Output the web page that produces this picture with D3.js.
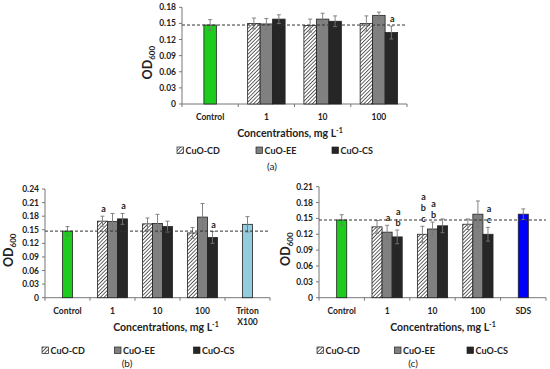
<!DOCTYPE html>
<html>
<head>
<meta charset="utf-8">
<script src="https://cdn.jsdelivr.net/npm/d3@7"></script>
<style>
  body { margin: 0; background: #fff; }
  svg { display: block; }
  text { font-family: Lato, "Open Sans", sans-serif; }
</style>
</head>
<body>
<div id="chart"></div>
<script>
/*--- datos ---*/
const series = ["CuO-CD", "CuO-EE", "CuO-CS"];
const concs = ["1", "10", "100"];

// panel (a)
const aCats = ["Control", "1", "10", "100"];
const aControl = [0.147, 0.010];
const aCD = [0.150, 0.146, 0.150];
const aEE = [0.149, 0.158, 0.165];
const aCS = [0.158, 0.154, 0.133];
const aCDErr = [0.010, 0.012, 0.014];
const aEEErr = [0.010, 0.011, 0.006];
const aCSErr = [0.008, 0.010, 0.012];
const aLetters = [["", "", ""], ["", "", ""], ["", "", "a"]];
const aTicks = [0, 0.03, 0.06, 0.09, 0.12, 0.15, 0.18];

// panel (b)
const bCats = ["Control", "1", "10", "100", "Triton X100"];
const bControl = [0.147, 0.010];
const bRef = [0.162, 0.017];
const bCD = [0.169, 0.163, 0.143];
const bEE = [0.168, 0.164, 0.178];
const bCS = [0.174, 0.157, 0.133];
const bCDErr = [0.011, 0.013, 0.012];
const bEEErr = [0.018, 0.020, 0.030];
const bCSErr = [0.012, 0.012, 0.013];
const bLetters = [["a", "", ""], ["", "", ""], ["a", "", "a"]];
const bTicks = [0, 0.03, 0.06, 0.09, 0.12, 0.15, 0.18, 0.21, 0.24];

// panel (c)
const cCats = ["Control", "1", "10", "100", "SDS"];
const cControl = [0.147, 0.010];
const cRef = [0.158, 0.010];
const cCD = [0.134, 0.120, 0.139];
const cEE = [0.124, 0.130, 0.158];
const cCS = [0.115, 0.136, 0.120];
const cCDErr = [0.012, 0.015, 0.010];
const cEEErr = [0.013, 0.013, 0.025];
const cCSErr = [0.013, 0.013, 0.013];
const cLetters = [["", "a b c", ""], ["a", "a b", ""], ["a b", "", "a c"]];
const cTicks = [0, 0.03, 0.06, 0.09, 0.12, 0.15, 0.18, 0.21];

const linea_control = 0.147;

/*--- svg ---*/
const width = 550, height = 369;
const svg = d3.select("#chart").append("svg")
  .attr("width", width).attr("height", height);

const defs = svg.append("defs");
const pat = defs.append("pattern")
  .attr("id", "rayas")
  .attr("patternUnits", "userSpaceOnUse")
  .attr("width", 2.6).attr("height", 2.6)
  .attr("patternTransform", "rotate(45)");
pat.append("rect").attr("width", 2.6).attr("height", 2.6).attr("fill", "#fff");
pat.append("line").attr("x1", 0).attr("y1", 0).attr("x2", 0).attr("y2", 2.6)
  .attr("stroke", "#111").attr("stroke-width", 1.3);

const fills = ["url(#rayas)", "#808080", "#262626"];

function panel(p) {
  const g = svg.append("g");
  const x = d3.scaleBand().domain(p.cats).range(p.xr).padding(0);
  const y = d3.scaleLinear().domain([0, p.ymax]).range(p.yr);
  const bw = x.bandwidth() * 0.222;

  // eje y
  g.append("line").attr("x1", p.xr[0]).attr("x2", p.xr[0])
    .attr("y1", y(0)).attr("y2", y(p.ymax)).attr("stroke", "#777");
  g.selectAll(".yt").data(p.ticks).enter().append("line")
    .attr("x1", p.xr[0] - 3).attr("x2", p.xr[0])
    .attr("y1", d => y(d)).attr("y2", d => y(d)).attr("stroke", "#777");
  g.selectAll(".yl").data(p.ticks).enter().append("text")
    .attr("x", p.xr[0] - 6).attr("y", d => y(d) + 3)
    .attr("text-anchor", "end").attr("font-size", 8.5).attr("font-weight", 700)
    .attr("fill", "#222")
    .text(d => d === 0 ? "0" : d.toFixed(2));

  // eje x
  g.append("line").attr("x1", p.xr[0]).attr("x2", p.xr[1])
    .attr("y1", y(0)).attr("y2", y(0)).attr("stroke", "#777");
  const bounds = p.cats.map(c => x(c)).concat([p.xr[1]]);
  g.selectAll(".xt").data(bounds).enter().append("line")
    .attr("x1", d => d).attr("x2", d => d)
    .attr("y1", y(0)).attr("y2", y(0) + 3).attr("stroke", "#777");
  p.cats.forEach(c => {
    const parts = c === "Triton X100" ? ["Triton", "X100"] : [c];
    parts.forEach((t, i) => {
      g.append("text").attr("x", x(c) + x.bandwidth() / 2)
        .attr("y", y(0) + 16 + i * 11.5)
        .attr("text-anchor", "middle").attr("font-size", 8.5).attr("font-weight", 700)
        .attr("fill", "#222").text(t);
    });
  });

  // barras
  const bars = [];
  bars.push({ cx: x(p.cats[0]) + x.bandwidth() / 2, v: p.control[0], e: p.control[1], fill: "#1ecc1e", letter: "" });
  concs.forEach((c, i) => {
    const cx0 = x(c) + x.bandwidth() / 2;
    p.vals.forEach((s, j) => {
      bars.push({ cx: cx0 + (j - 1) * bw, v: s[i], e: p.errs[j][i], fill: fills[j], letter: p.letters[j][i] });
    });
  });
  if (p.ref) {
    bars.push({ cx: x(p.cats[4]) + x.bandwidth() / 2, v: p.ref[0], e: p.ref[1], fill: p.refColor, letter: "" });
  }

  g.selectAll(".bar").data(bars).enter().append("rect")
    .attr("x", d => d.cx - bw / 2).attr("width", bw)
    .attr("y", d => y(d.v)).attr("height", d => y(0) - y(d.v))
    .attr("fill", d => d.fill).attr("stroke", "#222").attr("stroke-width", 0.8);

  // barras de error
  const eb = g.selectAll(".eb").data(bars).enter().append("g").attr("stroke", "#777").attr("stroke-width", 0.9);
  eb.append("line").attr("x1", d => d.cx).attr("x2", d => d.cx)
    .attr("y1", d => y(d.v - d.e)).attr("y2", d => y(d.v + d.e));
  eb.append("line").attr("x1", d => d.cx - 2).attr("x2", d => d.cx + 2)
    .attr("y1", d => y(d.v - d.e)).attr("y2", d => y(d.v - d.e));
  eb.append("line").attr("x1", d => d.cx - 2).attr("x2", d => d.cx + 2)
    .attr("y1", d => y(d.v + d.e)).attr("y2", d => y(d.v + d.e));

  // letras
  bars.filter(d => d.letter).forEach(d => {
    const ls = d.letter.split(" ");
    ls.forEach((t, k) => {
      g.append("text").attr("x", d.cx + 1)
        .attr("y", y(d.v + d.e) - 4 - (ls.length - 1 - k) * 11)
        .attr("text-anchor", "middle").attr("font-size", 9).attr("font-weight", 700)
        .attr("fill", "#222").text(t);
    });
  });

  // linea punteada
  g.append("line").attr("x1", p.xr[0]).attr("x2", p.xr[1])
    .attr("y1", y(linea_control)).attr("y2", y(linea_control))
    .attr("stroke", "#333").attr("stroke-width", 1).attr("stroke-dasharray", "3,2");

  // titulo y
  const yt = g.append("text")
    .attr("transform", "translate(" + p.ylabX + "," + ((p.yr[0] + p.yr[1]) / 2 + 7) + ") rotate(-90)")
    .attr("text-anchor", "middle").attr("font-size", 12.5).attr("font-weight", 700).attr("fill", "#222");
  yt.append("tspan").text("OD");
  yt.append("tspan").attr("font-size", 8).attr("dy", 3).text("600");

  // titulo x
  const xt = g.append("text").attr("x", p.titleX).attr("y", y(0) + 33)
    .attr("text-anchor", "middle").attr("font-size", 10.5).attr("font-weight", 700).attr("fill", "#222");
  xt.append("tspan").text("Concentrations, mg L");
  xt.append("tspan").attr("font-size", 7).attr("dy", -4).text("-1");

  // leyenda
  series.forEach((s, j) => {
    const lx = p.legX[j];
    g.append("rect").attr("x", lx).attr("y", p.legY - 6).attr("width", 6.5).attr("height", 6.5)
      .attr("fill", fills[j]).attr("stroke", "#222").attr("stroke-width", 0.7);
    g.append("text").attr("x", lx + 8.5).attr("y", p.legY + 0.5)
      .attr("font-size", 9).attr("font-weight", 700).attr("fill", "#222").text(s);
  });

  // etiqueta del panel
  g.append("text").attr("x", p.tagX).attr("y", p.tagY)
    .attr("text-anchor", "middle").attr("font-size", 10)
    .attr("font-family", "'Liberation Serif', 'DejaVu Serif', serif")
    .attr("fill", "#222").text(p.tag);
}

panel({
  cats: aCats, xr: [182, 407], yr: [104, 7.3], ymax: 0.18, ticks: aTicks,
  control: aControl, vals: [aCD, aEE, aCS], errs: [aCDErr, aEEErr, aCSErr], letters: aLetters,
  ylabX: 152, titleX: 290, legX: [177, 256, 332], legY: 153, tag: "(a)", tagX: 272, tagY: 170
});

panel({
  cats: bCats, xr: [45, 270], yr: [297.7, 189], ymax: 0.24, ticks: bTicks,
  control: bControl, ref: bRef, refColor: "#93cddd",
  vals: [bCD, bEE, bCS], errs: [bCDErr, bEEErr, bCSErr], letters: bLetters,
  ylabX: 13, titleX: 166, legX: [42, 114.5, 193.5], legY: 353, tag: "(b)", tagX: 127, tagY: 367
});

panel({
  cats: cCats, xr: [319, 546], yr: [297.7, 186.7], ymax: 0.21, ticks: cTicks,
  control: cControl, ref: cRef, refColor: "#0000ff",
  vals: [cCD, cEE, cCS], errs: [cCDErr, cEEErr, cCSErr], letters: cLetters,
  ylabX: 290, titleX: 443, legX: [317, 394.5, 467], legY: 353, tag: "(c)", tagX: 413, tagY: 367
});
</script>
</body>
</html>
